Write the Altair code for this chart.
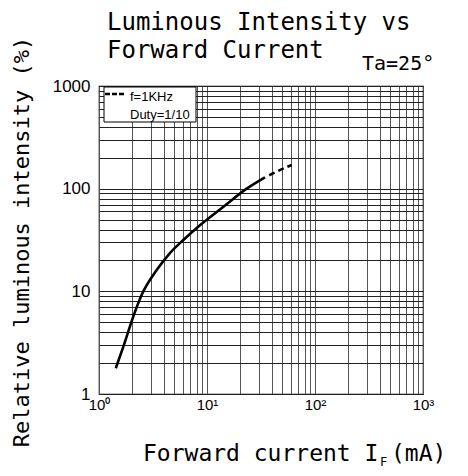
import altair as alt
import pandas as pd

# ---- data ----
if_solid = [1.43, 1.68, 2.08, 2.48, 3.42, 4.54, 6.04, 8.6, 14.2, 23.3, 34.4]
iv_solid = [1.78, 2.89, 5.7, 9.2, 16.1, 23.6, 31.6, 44, 66.7, 100, 129]
if_dash = [37.7, 45, 60.8]
iv_dash = [135, 148, 170]

x_ticks = [1, 10, 100, 1000]
x_tick_labels = ["10⁰", "10¹", "10²", "10³"]
y_ticks = [1, 10, 100, 1000]
y_tick_labels = ["1", "10", "100", "1000"]
grid_values = [m * 10 ** k for k in range(3) for m in range(1, 10)] + [1000]

title_line1 = "Luminous Intensity vs"
title_line2 = "Forward Current"
ta_text = "Ta=25°"
y_title = "Relative luminous intensity (%)"
x_title_main = "Forward current I"
x_title_sub = "F"
x_title_unit = "(mA)"
legend_lines = ["f=1KHz", "Duty=1/10"]

MONO = "DejaVu Sans Mono"
SANS = "Liberation Sans"

W, H = 324, 308


def label_expr(vals, labels):
    parts = [f"datum.value == {v} ? '{l}'" for v, l in zip(vals, labels)]
    return " : ".join(parts) + " : ''"


xscale = alt.Scale(type="log", domain=[1, 1000], nice=False)
yscale = alt.Scale(type="log", domain=[1, 1000], nice=False)

xaxis = alt.Axis(values=grid_values, labelExpr=label_expr(x_ticks, x_tick_labels),
                 title=None, ticks=False, domain=False, grid=True,
                 gridColor="#555555", gridWidth=1, gridOpacity=1,
                 labelFont=SANS, labelFontSize=15, labelColor="#000000",
                 labelPadding=3, labelOverlap=False, labelBound=False, labelFlush=False)
yaxis = alt.Axis(values=grid_values, labelExpr=label_expr(y_ticks, y_tick_labels),
                 title=None, ticks=False, domain=False, grid=True,
                 gridColor="#222222", gridWidth=1, gridOpacity=1,
                 labelFont=SANS, labelFontSize=17, labelColor="#000000",
                 labelPadding=9, labelOverlap=False, labelBound=False)

solid_df = pd.DataFrame({"IF": if_solid, "IV": iv_solid})
dash_df = pd.DataFrame({"IF": if_dash, "IV": iv_dash})

solid = alt.Chart(solid_df).mark_line(color="black", strokeWidth=2.6, interpolate="monotone").encode(
    x=alt.X("IF:Q", scale=xscale, axis=xaxis),
    y=alt.Y("IV:Q", scale=yscale, axis=yaxis),
)
dashed = alt.Chart(dash_df).mark_line(color="black", strokeWidth=2.6, strokeDash=[6, 4],
                                      interpolate="monotone").encode(
    x=alt.X("IF:Q", scale=xscale),
    y=alt.Y("IV:Q", scale=yscale),
)


def text_layer(s, x, y, size, font=MONO, align="left", baseline="alphabetic", angle=0):
    kw = dict(font=font, fontSize=size, align=align, baseline=baseline, color="black")
    if angle:
        kw["angle"] = angle
    return alt.Chart(pd.DataFrame({"t": [s]})).mark_text(**kw).encode(
        x=alt.value(x), y=alt.value(y), text="t:N")


legend_box = alt.Chart(pd.DataFrame({"a": [0]})).mark_rect(
    fill="white", stroke="black", strokeWidth=1).encode(
    x=alt.value(5), x2=alt.value(97), y=alt.value(1), y2=alt.value(36))
legend_dash = alt.Chart(pd.DataFrame({"a": [0]})).mark_rule(
    color="black", strokeWidth=2.5, strokeDash=[5, 2]).encode(
    x=alt.value(6), x2=alt.value(27), y=alt.value(8))

layers = [
    solid, dashed, legend_box, legend_dash,
    text_layer(legend_lines[0], 31, 11, 13, font=SANS, baseline="middle"),
    text_layer(legend_lines[1], 31, 29, 13, font=SANS, baseline="middle"),
    text_layer(title_line1, 8, -56, 24),
    text_layer(title_line2, 8, -28, 24),
    text_layer(ta_text, 263, -16, 20),
    text_layer(y_title, -77, H / 2 + 2, 22, align="center", baseline="middle", angle=270),
    text_layer(x_title_main, 44, 375, 23),
    text_layer(x_title_sub, 281, 380, 12),
    text_layer(x_title_unit, 292, 375, 23),
]

chart = alt.layer(*layers).properties(
    width=W, height=H,
    autosize=alt.AutoSizeParams(type="none"),
    padding={"left": 91, "top": 78, "right": 37, "bottom": 74},
    background="white",
).configure_view(stroke="black", strokeWidth=1.2)

chart.save("out.html", embed_options={"renderer": "svg", "actions": False})
